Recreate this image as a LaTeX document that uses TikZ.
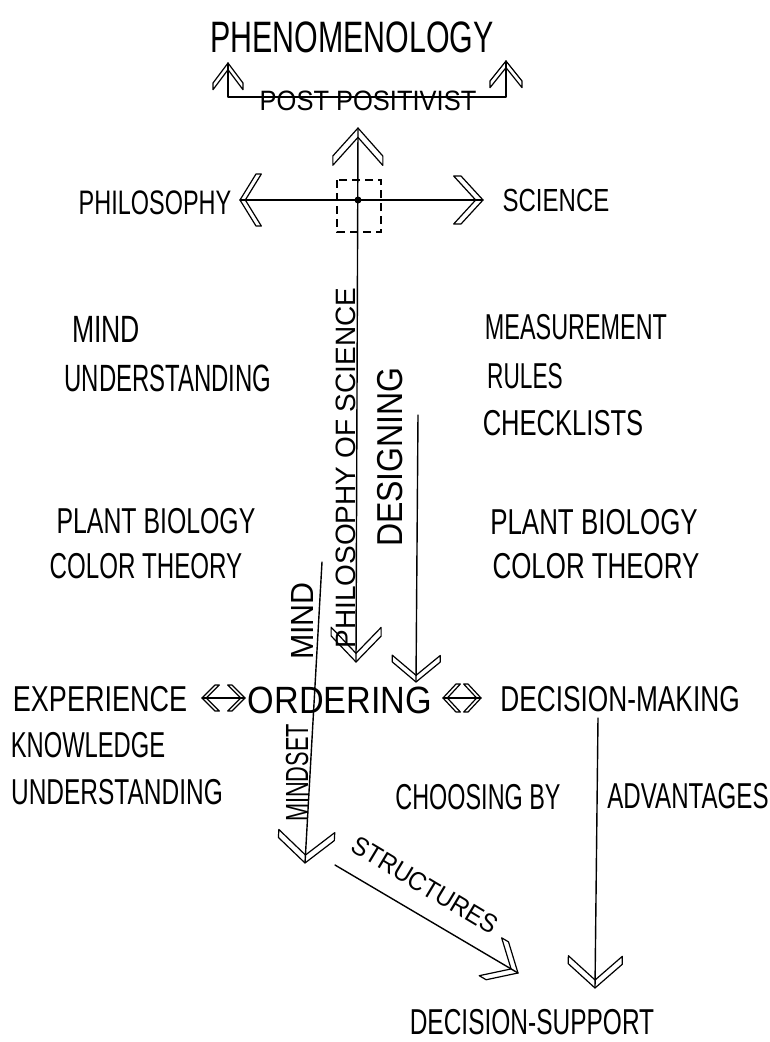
\documentclass[tikz,border=0pt]{standalone}
\usepackage{fontspec}
\setmainfont{Liberation Sans}
\usetikzlibrary{decorations.markings}
\begin{document}
\begin{tikzpicture}[x=1pt,y=-1pt,
  ink/.style={line width=1.4pt, line cap=round, line join=round},
  lbl/.style={inner sep=0pt, font=\fontsize{#1}{#1}\selectfont},
  lbl/.default=36,
  % open chevron head drawn at the end of a path: length #1, half-width #2
  headend/.style 2 args={postaction={decorate, decoration={markings,
    mark=at position 1 with {\draw[line width=1.2pt, solid, line join=round]
      (0,0) -- (-#1,#2) -- (-#1-#1/3,#2) -- (-#1/3,0) -- (-#1-#1/3,-#2) -- (-#1,-#2) -- cycle;}}}},
  % the same chevron at the start of a path, pointing backwards
  headstart/.style 2 args={postaction={decorate, decoration={markings,
    mark=at position 0 with {\draw[line width=1.2pt, solid, line join=round]
      (0,0) -- (#1,#2) -- (#1+#1/3,#2) -- (#1/3,0) -- (#1+#1/3,-#2) -- (#1,-#2) -- cycle;}}}},
]
\useasboundingbox (0,0) rectangle (770,1042);

% ---- labels ----
\node[lbl=44, xscale=.69] (phen) at (352,37) {PHENOMENOLOGY};
\node[lbl=28, xscale=.91] (post) at (368,101) {POST POSITIVIST};
\node[lbl=34, xscale=.69] (phil) at (155,203) {PHILOSOPHY};
\node[lbl=32, xscale=.75] (sci) at (556,200) {SCIENCE};

\node[lbl=38, xscale=.70] (mindL) at (106,329) {MIND};
\node[lbl=38, xscale=.63] (undL) at (168,378) {UNDERSTANDING};
\node[lbl, xscale=.69] (plantL) at (156,521) {PLANT BIOLOGY};
\node[lbl, xscale=.67] (colorL) at (146,566) {COLOR THEORY};

\node[lbl, xscale=.65] (meas) at (576,327) {MEASUREMENT};
\node[lbl, xscale=.63] (rules) at (525,376) {RULES};
\node[lbl, xscale=.71] (check) at (563,423) {CHECKLISTS};
\node[lbl, xscale=.72] (plantR) at (594,522) {PLANT BIOLOGY};
\node[lbl, xscale=.72] (colorR) at (596,566) {COLOR THEORY};

\node[lbl=28, rotate=90] (pos) at (346,468) {PHILOSOPHY OF SCIENCE};
\node[lbl, rotate=90, xscale=.89] (des) at (390,457) {DESIGNING};
\node[lbl=32, rotate=90, xscale=.95] (mindV) at (302,621) {MIND};
\node[lbl=32, rotate=90, xscale=.68] (mindset) at (297,773) {MINDSET};

\node[lbl, xscale=.75] (exp) at (100,699) {EXPERIENCE};
\node[lbl=38, xscale=.90] (ord) at (340,700) {ORDERING};
\node[lbl, xscale=.73] (dmak) at (620,699) {DECISION-MAKING};
\node[lbl, xscale=.66] (know) at (88,745) {KNOWLEDGE};
\node[lbl, xscale=.68] (undB) at (117,792) {UNDERSTANDING};
\node[lbl, xscale=.65] (choose) at (478,797) {CHOOSING BY};
\node[lbl, xscale=.67] (adv) at (688,796) {ADVANTAGES};

\node[lbl=26, rotate=-31, xscale=.93] (struct) at (425,885) {STRUCTURES};
\node[lbl, xscale=.68] (dsup) at (532,1022) {DECISION-SUPPORT};

% ---- connector end points ----
\coordinate (phenL) at (228,63);
\coordinate (ppL) at (228,97);
\coordinate (ppR) at (506,97);
\coordinate (phenR) at (506,61);
\coordinate (axisT) at (358,128);
\coordinate (axisB) at (356,662);
\coordinate (hubL) at (240,200);
\coordinate (hubR) at (483,200);
\coordinate (hub) at (358,200);
\coordinate (desT) at (418,415);
\coordinate (desB) at (416,682);
\coordinate (mindT) at (322,562);
\coordinate (mindB) at (305,863);
\coordinate (stA) at (335,865);
\coordinate (stB) at (518,973);
\coordinate (dsT) at (598,718);
\coordinate (dsB) at (595,988);
\coordinate (eoL) at (202,698);
\coordinate (eoR) at (245,698);
\coordinate (odL) at (443,698);
\coordinate (odR) at (481,698);

% ---- connectors ----
\draw[ink, headstart={20}{15}, headend={20}{16}] (phenL) -- (ppL) -- (ppR) -- (phenR);
\draw[ink, headstart={28}{25}, headend={26}{25}] (axisT) -- (axisB);
\draw[ink, headstart={16}{26}, headend={22}{24}] (hubL) -- (hubR);
\fill (hub) circle (3.5pt);
\draw[line width=1.1pt, dash pattern=on 8pt off 5pt] (337,180) rectangle (381,232);

\draw[ink, headend={20}{24}] (desT) -- (desB);
\draw[ink, headend={24}{28}] (mindT) -- (mindB);
\draw[ink, headend={24}{22}] (stA) -- (stB);
\draw[ink, headend={24}{27}] (dsT) -- (dsB);

\draw[ink, headstart={13}{13}, headend={13}{13}] (eoL) -- (eoR);
\draw[ink, headstart={13}{14}, headend={13}{14}] (odL) -- (odR);
\end{tikzpicture}
\end{document}
